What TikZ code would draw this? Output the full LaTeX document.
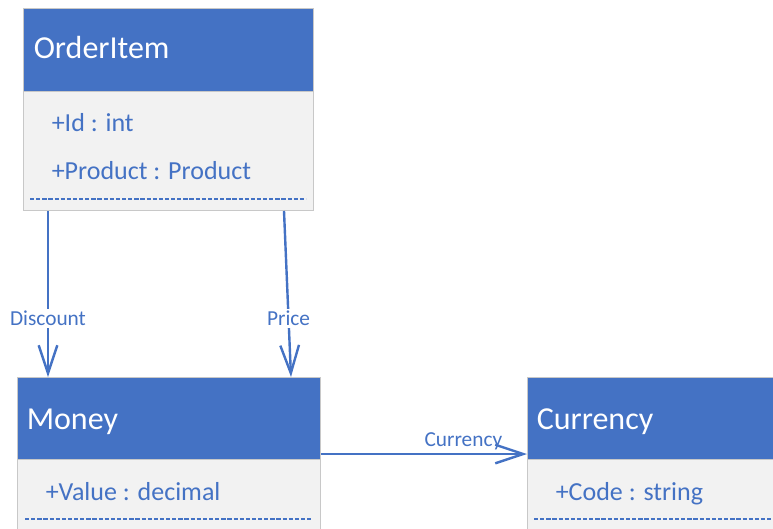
\documentclass[tikz,border=0pt]{standalone}
\usepackage{fontspec}
\setmainfont{Carlito}
\usetikzlibrary{arrows.meta}
\definecolor{umlblue}{HTML}{4472C4}
\definecolor{umlbody}{HTML}{F2F2F2}
\definecolor{umledge}{HTML}{C8C8C8}
\tikzset{
  classhead/.style={draw=umledge, line width=0.75pt, fill=umlblue, anchor=north west, inner sep=0pt},
  classbody/.style={draw=umledge, line width=0.75pt, fill=umlbody, anchor=north west, inner sep=0pt},
  classname/.style={text=white, font=\fontsize{24}{28}\selectfont, anchor=base west, inner sep=0pt},
  attr/.style={text=umlblue, font=\fontsize{19.5}{23}\selectfont, anchor=base west, inner sep=0pt},
  sepline/.style={draw=umlblue, line width=1.8pt, dash pattern=on 3.2pt off 1.4pt},
  assoc/.style={draw=umlblue, line width=1.8pt, -{Straight Barb[length=21pt,width=14pt]}},
  role/.style={text=umlblue, font=\fontsize{16}{19}\selectfont, fill=white, inner sep=1.5pt},
}
\begin{document}
\begin{tikzpicture}[x=0.75pt,y=-0.75pt]
\useasboundingbox (0,0) rectangle (773,528);
\clip (0,0) rectangle (773,528);

% OrderItem class
\node[classhead, minimum width=217.5pt, minimum height=62.25pt] (oiH) at (23,8) {};
\node[classbody, minimum width=217.5pt, minimum height=89.25pt] (oiB) at (23,91) {};
\node[classname] (oiN) at (33.5,59) {OrderItem};
\node[attr] (oiA1) at (51.5,131.5) {+Id : int};
\node[attr] (oiA2) at (51.5,179) {+Product : Product};
\draw[sepline] (30,199) -- (306,199);

% Money class
\node[classhead, minimum width=227.25pt, minimum height=61.5pt] (mH) at (17,377) {};
\node[classbody, minimum width=227.25pt, minimum height=70pt] (mB) at (17,459) {};
\node[classname] (mN) at (26.5,429) {Money};
\node[attr] (mA1) at (45.5,500.5) {+Value : decimal};
\draw[sepline] (25,519) -- (313,519);

% Currency class
\node[classhead, minimum width=217.5pt, minimum height=61.5pt] (cH) at (527,377) {};
\node[classbody, minimum width=217.5pt, minimum height=70pt] (cB) at (527,459) {};
\node[classname] (cN) at (536.5,429) {Currency};
\node[attr] (cA1) at (555.5,500.5) {+Code : string};
\draw[sepline] (534,519) -- (790,519);

% associations
\draw[assoc] ([xshift=18.75pt]oiB.south west) -- node[role, pos=0.647] (lDisc) {Discount} ([xshift=23.25pt]mH.north west);
\draw[assoc] ([xshift=195.75pt]oiB.south west) -- node[role, pos=0.647] (lPrice) {Price} ([xshift=205.5pt]mH.north west);
\draw[assoc] ([yshift=4.5pt]mH.south east) -- node[role, fill=none, inner sep=0pt, pos=0.691, anchor=base, yshift=6pt] (lCur) {Currency} ([yshift=4.5pt]cH.south west);
\end{tikzpicture}
\end{document}
